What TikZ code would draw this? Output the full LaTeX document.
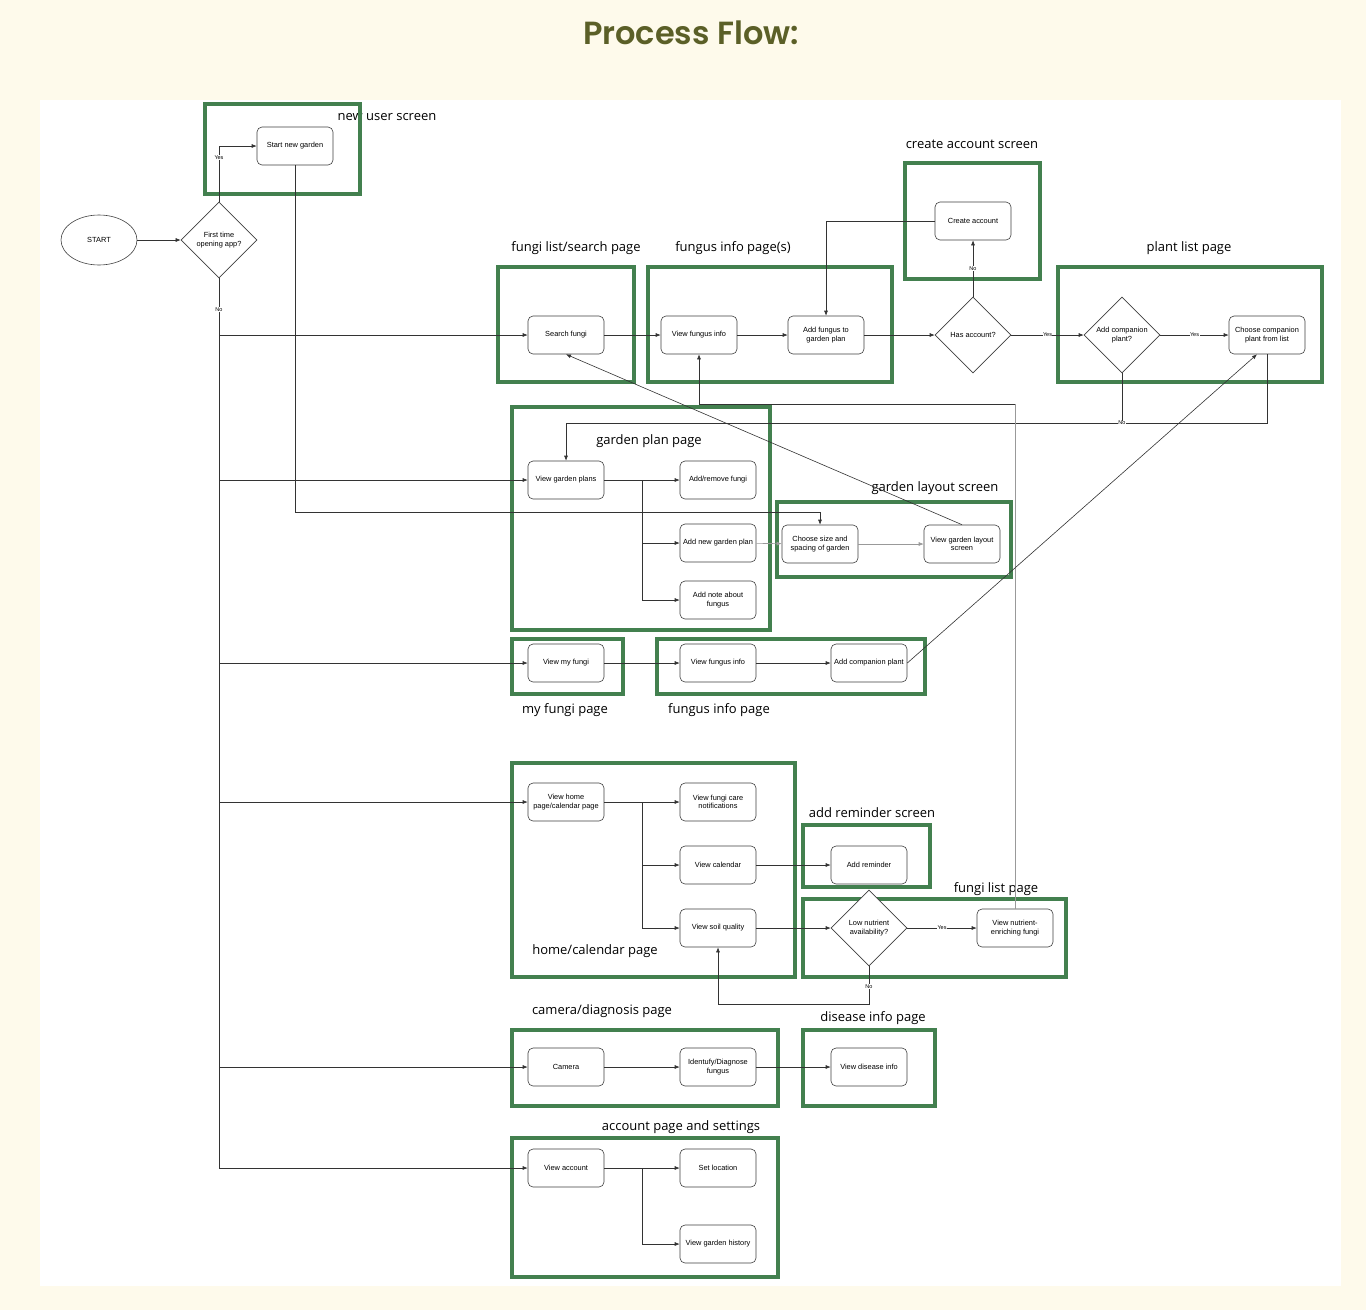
\documentclass[tikz,border=0pt]{standalone}
\usepackage{fontspec}
\setmainfont{Liberation Sans}
\newfontfamily\pagefont{Open Sans}
\newfontfamily\titlefont{Poppins}[BoldFont={* SemiBold}]
\usetikzlibrary{shapes.geometric,arrows.meta,calc}
\definecolor{cream}{HTML}{FEFAEB}
\definecolor{olive}{HTML}{5B5F27}
\definecolor{pagegreen}{HTML}{43804F}
\tikzset{
  stepbox/.style={draw=black!75,fill=white,rounded corners=5pt,line width=0.6pt,
    minimum width=76pt,minimum height=38pt,inner sep=1pt,align=center,
    font=\fontsize{7.4}{8.4}\selectfont},
  decision/.style={diamond,aspect=1,draw=black!75,fill=white,line width=0.6pt,
    minimum width=76pt,minimum height=76pt,inner sep=0pt,align=center,
    font=\fontsize{7.4}{8.4}\selectfont},
  terminal/.style={ellipse,draw=black!75,fill=white,line width=0.6pt,
    minimum width=76pt,minimum height=50pt,font=\fontsize{7.4}{8.4}\selectfont},
  pageframe/.style={draw=pagegreen,line width=4pt},
  pagelabel/.style={font=\pagefont\fontsize{13}{15}\selectfont},
  flow/.style={draw=black!80,line width=0.6pt,-{Latex[length=5pt,width=4pt]}},
  link/.style={draw=black!80,line width=0.6pt},
  branchlabel/.style={fill=white,inner sep=0.5pt,font=\fontsize{5.5}{6}\selectfont}
}
\begin{document}
\begin{tikzpicture}[x=1pt,y=-1pt]
  \useasboundingbox (0,0) rectangle (1366,1310);
  % background
  \fill[cream] (0,0) rectangle (1366,1310);
  \fill[white] (40,100) rectangle (1341,1286);
  \node[font=\titlefont\bfseries\fontsize{32}{35}\selectfont,text=olive] (title) at (691,33) {Process Flow:};

  % page labels
  \node[pagelabel] (lblnewuser) at (387,117) {new user screen};
  \node[pagelabel] (lblsearch) at (576,248) {fungi list/search page};
  \node[pagelabel] (lblinfo) at (733,248) {fungus info page(s)};
  \node[pagelabel] (lblcreate) at (972,144) {create account screen};
  \node[pagelabel] (lblplant) at (1189,248) {plant list page};
  \node[pagelabel] (lblplan) at (649,441) {garden plan page};
  \node[pagelabel] (lbllayout) at (935,488) {garden layout screen};
  \node[pagelabel] (lblmyfungi) at (565,710) {my fungi page};
  \node[pagelabel] (lblinfotwo) at (719,710) {fungus info page};
  \node[pagelabel] (lblreminder) at (872,813) {add reminder screen};
  \node[pagelabel] (lblfungilist) at (996,889) {fungi list page};
  \node[pagelabel] (lblhome) at (595,951) {home/calendar page};
  \node[pagelabel] (lblcamera) at (602,1011) {camera/diagnosis page};
  \node[pagelabel] (lbldisease) at (873,1018) {disease info page};
  \node[pagelabel] (lblaccount) at (681,1127) {account page and settings};

  % page frames
  \draw[pageframe] (205,104) rectangle (360,194);
  \draw[pageframe] (498,267) rectangle (634,382);
  \draw[pageframe] (648,267) rectangle (892,382);
  \draw[pageframe] (905,163) rectangle (1040,279);
  \draw[pageframe] (1058,267) rectangle (1322,382);
  \draw[pageframe] (512,407) rectangle (770,630);
  \draw[pageframe] (777,502) rectangle (1011,577);
  \draw[pageframe] (512,639) rectangle (623,694);
  \draw[pageframe] (657,639) rectangle (925,694);
  \draw[pageframe] (512,763) rectangle (795,977);
  \draw[pageframe] (803,825) rectangle (930,887);
  \draw[pageframe] (803,899) rectangle (1066,977);
  \draw[pageframe] (512,1030) rectangle (778,1106);
  \draw[pageframe] (803,1030) rectangle (935,1106);
  \draw[pageframe] (512,1138) rectangle (778,1277);

  % steps
  \node[terminal] (start) at (99,240) {START};
  \node[decision] (first) at (219,240) {First time\\opening app?};
  \node[stepbox] (newgarden) at (295,146) {Start new garden};
  \node[stepbox] (search) at (566,335) {Search fungi};
  \node[stepbox] (fungusinfo) at (699,335) {View fungus info};
  \node[stepbox] (addfungus) at (826,335) {Add fungus to\\garden plan};
  \node[decision] (hasacct) at (973,335) {Has account?};
  \node[stepbox] (createacct) at (973,221) {Create account};
  \node[decision] (addcomp) at (1122,335) {Add companion\\plant?};
  \node[stepbox] (choosecomp) at (1267,335) {Choose companion\\plant from list};
  \node[stepbox] (viewplans) at (566,480) {View garden plans};
  \node[stepbox] (addremove) at (718,480) {Add/remove fungi};
  \node[stepbox] (addnewplan) at (718,543) {Add new garden plan};
  \node[stepbox] (addnote) at (718,600) {Add note about\\fungus};
  \node[stepbox] (choosesize) at (820,544) {Choose size and\\spacing of garden};
  \node[stepbox] (layout) at (962,544) {View garden layout\\screen};
  \node[stepbox] (myfungi) at (566,663) {View my fungi};
  \node[stepbox] (fungusinfotwo) at (718,663) {View fungus info};
  \node[stepbox] (addcompplant) at (869,663) {Add companion plant};
  \node[stepbox] (home) at (566,802) {View home\\page/calendar page};
  \node[stepbox] (carenotes) at (718,802) {View fungi care\\notifications};
  \node[stepbox] (calendar) at (718,865) {View calendar};
  \node[stepbox] (soil) at (718,928) {View soil quality};
  \node[stepbox] (reminder) at (869,865) {Add reminder};
  \node[decision] (lownutrient) at (869,928) {Low nutrient\\availability?};
  \node[stepbox] (nutrientfungi) at (1015,928) {View nutrient-\\enriching fungi};
  \node[stepbox] (camera) at (566,1067) {Camera};
  \node[stepbox] (diagnose) at (718,1067) {Identufy/Diagnose\\fungus};
  \node[stepbox] (disease) at (869,1067) {View disease info};
  \node[stepbox] (viewacct) at (566,1168) {View account};
  \node[stepbox] (setloc) at (718,1168) {Set location};
  \node[stepbox] (history) at (718,1244) {View garden history};

  % helper points
  \coordinate (trunkend) at (first.south |- viewacct);
  \coordinate (planloop) at (viewplans.north |- 0,423);
  \coordinate (infoloop) at (fungusinfo.south |- 0,404);
  \coordinate (layoutloop) at (choosesize.north |- 0,512);
  \coordinate (soilloop) at (soil.south |- 0,1004);
  \coordinate (planfork) at ($(viewplans.east)!0.5!(addremove.west)$);
  \coordinate (homefork) at ($(home.east)!0.5!(carenotes.west)$);
  \coordinate (acctfork) at ($(viewacct.east)!0.5!(setloc.west)$);

  % start and first decision
  \draw[flow] (start) -- (first);
  \draw[flow] (first.north) |- node[branchlabel,pos=0.4] {Yes} (newgarden);
  \draw[link] (first.south) -- node[branchlabel,pos=0.035] {No} (trunkend);
  \draw[flow] (first.south |- search) -- (search);
  \draw[flow] (first.south |- viewplans) -- (viewplans);
  \draw[flow] (first.south |- myfungi) -- (myfungi);
  \draw[flow] (first.south |- home) -- (home);
  \draw[flow] (first.south |- camera) -- (camera);
  \draw[flow] (trunkend) -- (viewacct);

  % search and account row
  \draw[flow] (search) -- (fungusinfo);
  \draw[flow] (fungusinfo) -- (addfungus);
  \draw[flow] (addfungus) -- (hasacct);
  \draw[flow] (hasacct) -- node[branchlabel] {No} (createacct);
  \draw[flow] (createacct.west) -| (addfungus.north);
  \draw[flow] (hasacct) -- node[branchlabel] {Yes} (addcomp);
  \draw[flow] (addcomp) -- node[branchlabel] {Yes} (choosecomp);
  \draw[flow] (choosecomp.south) |- (planloop) -- (viewplans.north);
  \draw[link] (addcomp.south) -- (addcomp.south |- planloop) node[branchlabel] {No};
  \draw[draw=black!40,line width=0.6pt] (nutrientfungi.north) -- (nutrientfungi.north |- infoloop);
  \draw[flow] (nutrientfungi.north |- infoloop) -- (infoloop) -- (fungusinfo.south);
  \draw[flow] (layout.north) -- (search.south);

  % garden plan page
  \draw[flow] (viewplans) -- (addremove);
  \draw[flow] (planfork) |- (addnewplan);
  \draw[flow] (planfork) |- (addnote);
  \draw[flow,draw=black!40] (addnewplan) -- (choosesize);
  \draw[flow] (newgarden.south) |- (layoutloop) -- (choosesize.north);
  \draw[flow,draw=black!40] (choosesize) -- (layout);

  % my fungi
  \draw[flow] (myfungi) -- (fungusinfotwo);
  \draw[flow] (fungusinfotwo) -- (addcompplant);
  \draw[flow] (addcompplant.east) -- ($(choosecomp.south)+(-10,0)$);

  % home/calendar page
  \draw[flow] (home) -- (carenotes);
  \draw[flow] (homefork) |- (calendar);
  \draw[flow] (homefork) |- (soil);
  \draw[flow] (calendar) -- (reminder);
  \draw[flow] (soil) -- (lownutrient);
  \draw[flow] (lownutrient) -- node[branchlabel] {Yes} (nutrientfungi);
  \draw[flow] (lownutrient.south) |- node[branchlabel,pos=0.27] {No} (soilloop) -- (soil.south);

  % camera and account
  \draw[flow] (camera) -- (diagnose);
  \draw[flow] (diagnose) -- (disease);
  \draw[flow] (viewacct) -- (setloc);
  \draw[flow] (acctfork) |- (history);
\end{tikzpicture}
\end{document}
